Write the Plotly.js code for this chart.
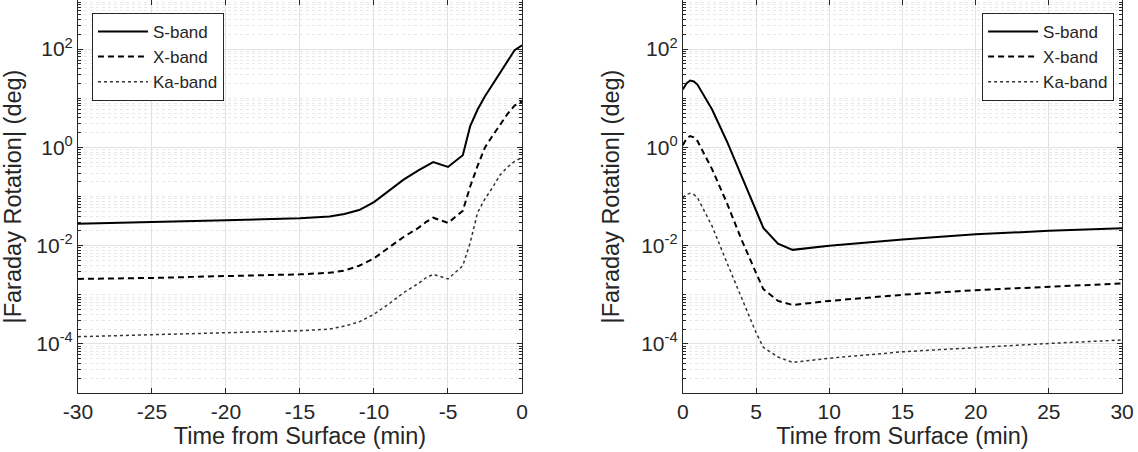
<!DOCTYPE html>
<html>
<head>
<meta charset="utf-8">
<script src="https://cdn.plot.ly/plotly-3.0.1.min.js"></script>
<style>
  html, body { margin: 0; padding: 0; background: #fff; }
  #chart { width: 1138px; height: 452px; }
</style>
</head>
<body>
<div id="chart"></div>
<script>
// time before surface (min), left panel
let tBefore = [-30, -25, -20, -15, -13, -12, -11, -10, -9, -8, -7, -6.5, -6, -5, -4, -3.5, -3, -2.5, -2, -1.5, -1, -0.5, 0];
let sBefore = [0.028, 0.030, 0.033, 0.036, 0.039, 0.044, 0.053, 0.077, 0.13, 0.22, 0.34, 0.42, 0.50, 0.40, 0.69, 2.7, 5.9, 11, 19, 33, 57, 95, 120];
let xBefore = [0.0021, 0.0022, 0.0024, 0.0026, 0.0028, 0.0031, 0.0039, 0.0055, 0.0091, 0.015, 0.023, 0.030, 0.037, 0.029, 0.051, 0.16, 0.42, 1.0, 1.7, 2.9, 4.7, 7.1, 8.7];
let kaBefore = [1.4e-4, 1.55e-4, 1.7e-4, 1.85e-4, 2.0e-4, 2.3e-4, 2.8e-4, 4.0e-4, 6.5e-4, 0.0011, 0.0017, 0.0022, 0.0026, 0.0021, 0.0039, 0.0115, 0.047, 0.09, 0.15, 0.27, 0.39, 0.52, 0.62];

// time after surface (min), right panel
let tAfter = [0, 0.25, 0.5, 0.75, 1, 2, 3, 4, 5, 5.5, 6.5, 7.5, 10, 15, 20, 25, 30];
let sAfter = [15, 20, 23, 22, 19, 5.9, 1.35, 0.26, 0.051, 0.023, 0.011, 0.0082, 0.0099, 0.0134, 0.017, 0.020, 0.0225];
let xAfter = [1.1, 1.5, 1.7, 1.6, 1.35, 0.36, 0.075, 0.0135, 0.0028, 0.0013, 7.5e-4, 6.2e-4, 7.5e-4, 0.0010, 0.00124, 0.00147, 0.0017];
let kaAfter = [0.095, 0.11, 0.116, 0.11, 0.095, 0.025, 0.0046, 8.9e-4, 1.7e-4, 8.5e-5, 5.4e-5, 4.2e-5, 5.1e-5, 6.9e-5, 8.5e-5, 1.02e-4, 1.2e-4];

let bandNames = ['S-band', 'X-band', 'Ka-band'];
let xTickValsBefore = [-30, -25, -20, -15, -10, -5, 0];
let xTickTextBefore = ['-30', '-25', '-20', '-15', '-10', '-5', '0'];
let xTickValsAfter = [0, 5, 10, 15, 20, 25, 30];
let xTickTextAfter = ['0', '5', '10', '15', '20', '25', '30'];
let yTickVals = [1e-4, 1e-2, 1, 1e2];
let yTickText = ['10<sup>-4</sup>', '10<sup>-2</sup>', '10<sup>0</sup>', '10<sup>2</sup>'];

let ink = '#262626';
let fontFamily = '"Liberation Sans", Arial, Helvetica, sans-serif';
let bandLines = [
  {color: '#000', width: 2, dash: 'solid'},
  {color: '#000', width: 2, dash: '6px,4px'},
  {color: '#333', width: 1.5, dash: 'dot'}
];

function makeTraces(t, series, xa, ya, legendId) {
  return series.map(function (vals, i) {
    return {
      x: t,
      y: vals,
      xaxis: xa,
      yaxis: ya,
      name: bandNames[i],
      legend: legendId,
      type: 'scatter',
      mode: 'lines',
      line: bandLines[i],
      hoverinfo: 'skip'
    };
  });
}

let data = makeTraces(tBefore, [sBefore, xBefore, kaBefore], 'x', 'y', 'legend')
  .concat(makeTraces(tAfter, [sAfter, xAfter, kaAfter], 'x2', 'y2', 'legend2'));

function xAxis(range, domain, anchor, vals, text) {
  return {
    domain: domain,
    anchor: anchor,
    range: range,
    tickvals: vals,
    ticktext: text,
    ticks: 'inside',
    ticklen: 5,
    tickcolor: ink,
    showline: true,
    linecolor: ink,
    linewidth: 1,
    mirror: 'ticks',
    showgrid: true,
    gridcolor: '#e3e3e3',
    zeroline: false,
    tickfont: {size: 21, color: ink, family: fontFamily},
    title: {text: 'Time from Surface (min)', font: {size: 23.5, color: ink, family: fontFamily}, standoff: 2}
  };
}

function yAxis(anchor) {
  return {
    anchor: anchor,
    domain: [0, 1],
    type: 'log',
    range: [-5, 3],
    tickvals: yTickVals,
    ticktext: yTickText,
    ticks: 'inside',
    ticklen: 5,
    tickcolor: ink,
    showline: true,
    linecolor: ink,
    linewidth: 1,
    mirror: 'ticks',
    showgrid: true,
    gridcolor: '#e3e3e3',
    zeroline: false,
    minor: {
      dtick: 'D1',
      ticks: 'inside',
      ticklen: 3,
      tickcolor: ink,
      showgrid: true,
      gridcolor: '#e8e8e8',
      griddash: 'dot'
    },
    tickfont: {size: 21, color: ink, family: fontFamily},
    title: {text: '|Faraday Rotation| (deg)', font: {size: 23.5, color: ink, family: fontFamily}, standoff: 14}
  };
}

function legendBox(x, xanchor) {
  return {
    x: x,
    xanchor: xanchor,
    y: 0.967,
    yanchor: 'top',
    bgcolor: '#fff',
    bordercolor: ink,
    borderwidth: 1,
    itemwidth: 50,
    font: {size: 17, color: ink, family: fontFamily},
    tracegroupgap: 0
  };
}

let layout = {
  width: 1138,
  height: 452,
  margin: {l: 0, r: 0, t: 0, b: 59},
  paper_bgcolor: '#fff',
  plot_bgcolor: '#fff',
  showlegend: true,
  font: {family: fontFamily, color: ink},
  xaxis: xAxis([-30, 0], [0.0685, 0.4587], 'y', xTickValsBefore, xTickTextBefore),
  yaxis: yAxis('x'),
  xaxis2: xAxis([0, 30], [0.600, 0.986], 'y2', xTickValsAfter, xTickTextAfter),
  yaxis2: yAxis('x2'),
  legend: legendBox(0.0808, 'left'),
  legend2: legendBox(0.979, 'right')
};

Plotly.newPlot('chart', data, layout, {staticPlot: true});
</script>
</body>
</html>
